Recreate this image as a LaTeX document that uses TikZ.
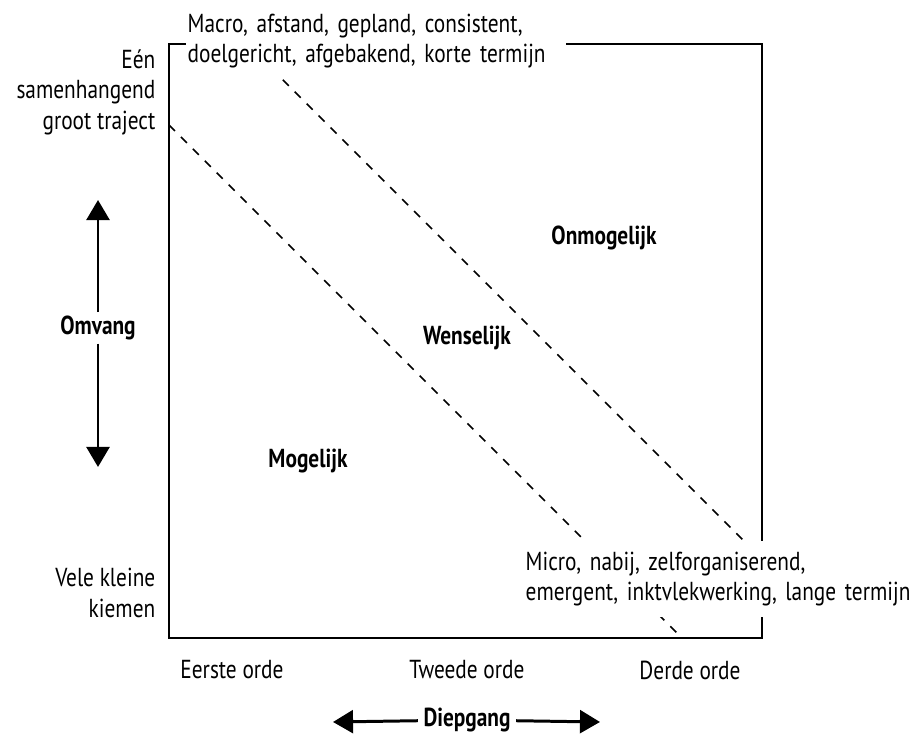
\documentclass[tikz,border=0pt]{standalone}
\usepackage{fontspec}
\setmainfont{PT Sans}[FakeStretch=0.82]
\usetikzlibrary{arrows.meta}
\tikzset{
  lbl/.style={font=\fontsize{7.4}{8.7}\selectfont, inner sep=0pt},
  kop/.style={font=\fontsize{7.4}{8.7}\selectfont\bfseries, fill=white, inner xsep=0.05cm, inner ysep=0.03cm},
  hoek/.style={lbl, fill=white, align=left, text width=3.76cm, inner xsep=0.02cm, inner ysep=0.07cm},
  kader/.style={line width=0.6pt},
  grens/.style={line width=0.45pt, dash pattern=on 2.4pt off 2.4pt},
  pijl/.style={line width=0.85pt},
}
\begin{document}
\begin{tikzpicture}[x=0.01cm,y=-0.01cm,>={Triangle[width=6.5pt,length=5.7pt]}]
  \useasboundingbox (0,0) rectangle (912,734);
  % kader en grenzen
  \draw[kader] (169,44) rectangle (762,638);
  \draw[grens] (169,125) -- (682,638);
  \draw[grens] (247,44) -- (762,559);
  % teksten bij de hoeken
  \node[hoek, anchor=west] (macro) at (185,41)
    {Macro, afstand, gepland, consistent,\\doelgericht, afgebakend, korte termijn};
  \node[hoek, anchor=west, text width=4cm, inner ysep=0.11cm] (micro) at (523,579)
    {Micro, nabij, zelforganiserend,\\emergent, inktvlekwerking, lange termijn};
  % gebieden
  \node[kop] (onmogelijk) at (604,238) {Onmogelijk};
  \node[kop] (wenselijk) at (467,338) {Wenselijk};
  \node[kop] (mogelijk) at (308,461) {Mogelijk};
  % omvang
  \node[lbl, align=right, anchor=east] (een) at (156,92) {Eén\\samenhangend\\groot traject};
  \node[lbl, align=right, anchor=east] (vele) at (156,593) {Vele kleine\\kiemen};
  \node[kop] (omvang) at (98,328) {Omvang};
  \coordinate (omboven) at (98,200);
  \coordinate (omonder) at (98,467);
  \draw[pijl,->] (omvang) -- (omboven);
  \draw[pijl,->] (omvang) -- (omonder);
  % diepgang
  \foreach \naam/\x/\tekst in {eerste/232/Eerste orde, tweede/467/Tweede orde, derde/690/Derde orde}{
    \node[lbl] (\naam) at (\x,670) {\tekst};
  }
  \node[kop] (diepgang) at (467,720) {Diepgang};
  \coordinate (dplinks) at (333,722);
  \coordinate (dprechts) at (600,722);
  \draw[pijl,->] (diepgang) -- (dplinks);
  \draw[pijl,->] (diepgang) -- (dprechts);
\end{tikzpicture}
\end{document}
